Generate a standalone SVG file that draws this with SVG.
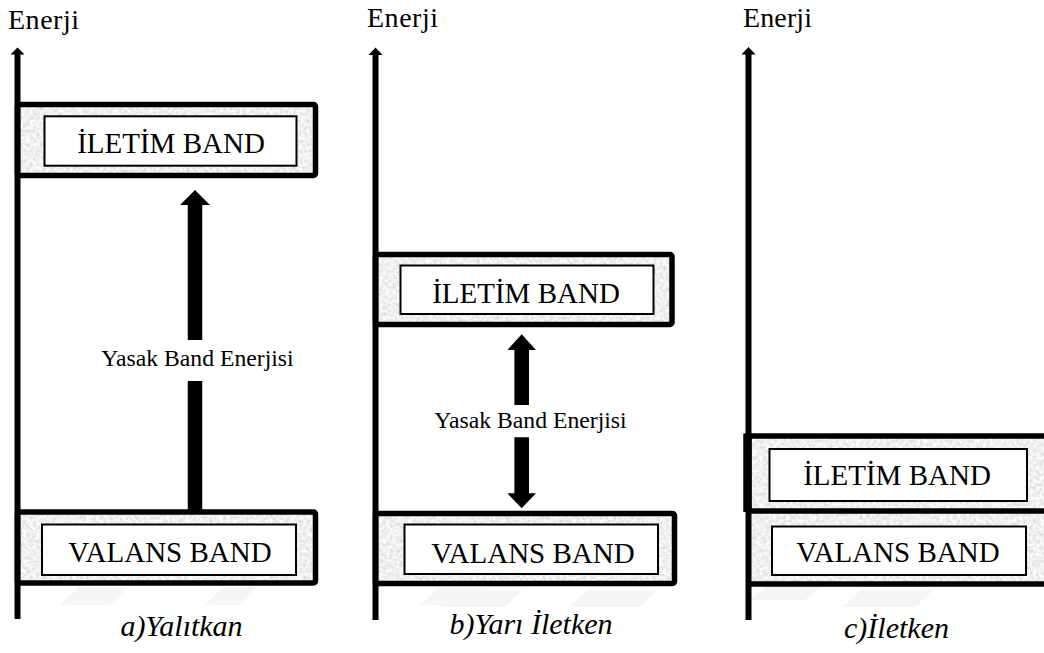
<svg xmlns="http://www.w3.org/2000/svg" width="1044" height="653" viewBox="0 0 1044 653">
  <style>
    text { font-family: 'Liberation Serif', 'Times New Roman', 'DejaVu Serif', serif; fill: #000; }
    .axis-label { font-size: 28px; }
    .band-text { font-size: 29px; text-anchor: middle; }
    .gap-text { font-size: 23.7px; text-anchor: middle; }
    .caption { font-size: 30px; font-style: italic; text-anchor: middle; }
    .axis { stroke: #000; stroke-width: 6; fill: none; }
    .outer { fill: none; stroke: #000; stroke-width: 5.5; stroke-linejoin: round; }
    .grain { fill: #ddd; filter: url(#grain); }
    .inner { fill: #fff; stroke: #000; stroke-width: 2; }
    .solid { fill: #000; stroke: none; }
    .wm { fill: #f5f5f5; stroke: none; }
  </style>
  <defs>
    <filter id="grain" x="0" y="0" width="1" height="1">
      <feTurbulence type="fractalNoise" baseFrequency="0.3" numOctaves="2" seed="7" result="n"/>
      <feColorMatrix in="n" type="matrix" values="0.5 0 0 0 0.62  0.5 0 0 0 0.62  0.5 0 0 0 0.62  0 0 0 0 1" result="g"/>
      <feComposite in="g" in2="SourceGraphic" operator="in"/>
    </filter>
  </defs>
  <rect width="1044" height="653" fill="#fff"/>

  <!-- faint watermark stripes -->
  <g id="watermark">
    <polygon class="wm" points="60,605 110,605 128,587 78,587"/>
    <polygon class="wm" points="205,605 240,605 258,587 223,587"/>
    <polygon class="wm" points="420,605 470,605 488,588 438,588"/>
    <polygon class="wm" points="440,607 505,607 522,590 457,590"/>
    <polygon class="wm" points="570,607 640,607 657,590 587,590"/>
    <polygon class="wm" points="750,600 805,600 825,584 770,584"/>
    <polygon class="wm" points="843,607 915,607 933,590 861,590"/>
  </g>

  <!-- Panel a: Yalıtkan -->
  <g id="a-iletim">
    <rect class="grain" x="17.5" y="104.5" width="298" height="71"/>
    <rect class="outer" x="17.5" y="104.5" width="298" height="71" rx="2"/>
    <rect class="inner" x="44.5" y="116.3" width="252" height="49.4"/>
    <text class="band-text" x="171" y="152.5" font-family="Liberation Serif, serif">İLETİM BAND</text>
  </g>
  <g id="a-valans">
    <rect class="grain" x="17.5" y="512" width="298" height="71"/>
    <rect class="outer" x="17.5" y="512" width="298" height="71" rx="2"/>
    <rect class="inner" x="42" y="524.5" width="254" height="50.5"/>
    <text class="band-text" x="170" y="562" font-family="Liberation Serif, serif">VALANS BAND</text>
  </g>

  <!-- Panel b: Yarı İletken -->
  <g id="b-iletim">
    <rect class="grain" x="375.5" y="254.5" width="296.5" height="70"/>
    <rect class="outer" x="375.5" y="254.5" width="296.5" height="70" rx="2"/>
    <rect class="inner" x="400.5" y="265.5" width="253" height="48.5"/>
    <text class="band-text" x="526" y="303" font-family="Liberation Serif, serif">İLETİM BAND</text>
  </g>
  <g id="b-valans">
    <rect class="grain" x="375.5" y="513.5" width="299" height="70"/>
    <rect class="outer" x="375.5" y="513.5" width="299" height="70" rx="2"/>
    <rect class="inner" x="404.5" y="524.5" width="253.5" height="49.5"/>
    <text class="band-text" x="533" y="563" font-family="Liberation Serif, serif">VALANS BAND</text>
  </g>

  <!-- Panel c: İletken -->
  <g id="c-iletim">
    <rect class="grain" x="748" y="436" width="296" height="75"/>
    <line x1="745" y1="436" x2="1044" y2="436" stroke="#000" stroke-width="5.5"/>
    <line x1="747.5" y1="433.5" x2="747.5" y2="512" stroke="#000" stroke-width="8.5"/>
    <rect class="inner" x="769.5" y="449" width="257.5" height="52"/>
    <text class="band-text" x="897" y="485" font-family="Liberation Serif, serif">İLETİM BAND</text>
  </g>
  <g id="c-valans">
    <rect class="grain" x="748" y="511" width="296" height="73"/>
    <line x1="748" y1="511" x2="1044" y2="511" stroke="#000" stroke-width="5.5"/>
    <line x1="748" y1="584" x2="1044" y2="584" stroke="#000" stroke-width="5.5"/>
    <rect class="inner" x="772" y="526.5" width="254" height="48.5"/>
    <text class="band-text" x="898" y="562" font-family="Liberation Serif, serif">VALANS BAND</text>
  </g>

  <!-- connectors: energy axes and band-gap arrows -->
  <g id="connectors">
    <line class="axis" x1="17.5" y1="53" x2="17.5" y2="619" stroke-width="5.5"/>
    <polygon class="solid" points="17.5,47.5 24.5,54.5 10.5,54.5"/>
    <line class="axis" x1="375.5" y1="54" x2="375.5" y2="620"/>
    <polygon class="solid" points="375.5,47.5 382.5,55 368.5,55"/>
    <line class="axis" x1="748.5" y1="53" x2="748.5" y2="620"/>
    <polygon class="solid" points="748.5,47 755.5,54.5 741.5,54.5"/>

    <polygon class="solid" points="195,190 210,205 202.25,205 202.25,340 187.75,340 187.75,205 180,205"/>
    <rect class="solid" x="187.75" y="381" width="14.5" height="131"/>

    <polygon class="solid" points="521.7,334.3 536,350 529,350 529,405 514.4,405 514.4,350 507.4,350"/>
    <polygon class="solid" points="514.4,437.3 529,437.3 529,493.3 536,493.3 521.7,508.3 507.4,493.3 514.4,493.3"/>
  </g>

  <g id="labels" font-family="Liberation Serif, serif">
    <text class="axis-label" x="8" y="29" textLength="71" font-family="Liberation Serif, serif">Enerji</text>
    <text class="axis-label" x="367" y="27" textLength="71" font-family="Liberation Serif, serif">Enerji</text>
    <text class="axis-label" x="743" y="27" textLength="69" font-family="Liberation Serif, serif">Enerji</text>
    <text class="gap-text" x="197.5" y="366" font-family="Liberation Serif, serif">Yasak Band Enerjisi</text>
    <text class="gap-text" x="530.5" y="428" font-family="Liberation Serif, serif">Yasak Band Enerjisi</text>
    <text class="caption" x="181.5" y="636" font-family="Liberation Serif, serif">a)Yalıtkan</text>
    <text class="caption" x="531" y="634" font-family="Liberation Serif, serif">b)Yarı İletken</text>
    <text class="caption" x="896.5" y="638" font-family="Liberation Serif, serif">c)İletken</text>
  </g>
</svg>
